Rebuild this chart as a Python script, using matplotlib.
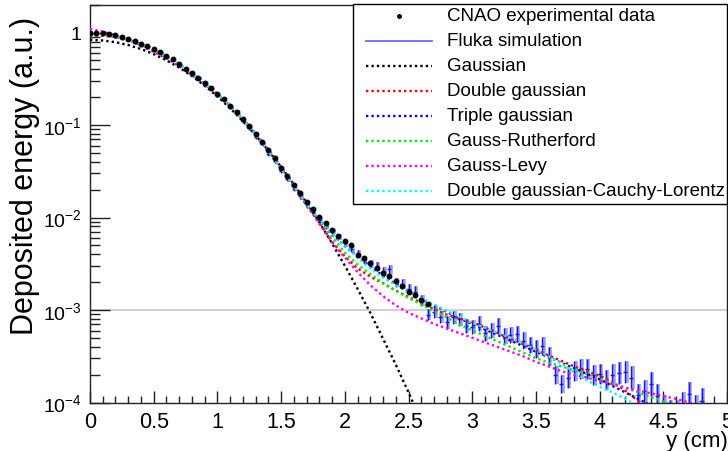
import matplotlib
matplotlib.use("Agg")
import matplotlib.pyplot as plt
from matplotlib.lines import Line2D
from matplotlib.patches import Rectangle
from matplotlib.ticker import FixedLocator, FuncFormatter, LogLocator, MultipleLocator, NullFormatter
import numpy as np

plt.rcParams["font.family"] = ["Liberation Sans", "DejaVu Sans"]
plt.rcParams["mathtext.fontset"] = "custom"
plt.rcParams["mathtext.rm"] = "Liberation Sans"
plt.rcParams["mathtext.it"] = "Liberation Sans:italic"
plt.rcParams["mathtext.bf"] = "Liberation Sans:bold"

# ---- data (values are log10 of the deposited energy) ----
cnao_x = [0.00, 0.05, 0.10, 0.15, 0.20, 0.25, 0.30, 0.35, 0.40, 0.45,
          0.50, 0.55, 0.60, 0.65, 0.70, 0.75, 0.80, 0.85, 0.90, 0.95,
          1.00, 1.05, 1.10, 1.15, 1.20, 1.25, 1.30, 1.35, 1.40, 1.45,
          1.50, 1.55, 1.60, 1.65, 1.70, 1.75, 1.80, 1.85, 1.90, 1.95,
          2.00, 2.05, 2.10, 2.15, 2.20, 2.25, 2.30, 2.35, 2.40, 2.45,
          2.50, 2.55, 2.60, 2.65]
cnao_log = [-0.01, 0.00, -0.01, -0.02, -0.03, -0.05, -0.07, -0.09, -0.12, -0.15,
            -0.18, -0.21, -0.25, -0.29, -0.34, -0.39, -0.44, -0.49, -0.55, -0.60,
            -0.66, -0.72, -0.79, -0.86, -0.93, -1.01, -1.10, -1.18, -1.27, -1.36,
            -1.46, -1.55, -1.65, -1.74, -1.83, -1.91, -1.99, -2.06, -2.13, -2.20,
            -2.25, -2.30, -2.40, -2.44, -2.49, -2.55, -2.60, -2.63, -2.69, -2.74,
            -2.80, -2.84, -2.89, -2.93]

fluka_x = [0.00, 0.05, 0.10, 0.15, 0.20, 0.25, 0.30, 0.35, 0.40, 0.45,
           0.50, 0.55, 0.60, 0.65, 0.70, 0.75, 0.80, 0.85, 0.90, 0.95,
           1.00, 1.05, 1.10, 1.15, 1.20, 1.25, 1.30, 1.35, 1.40, 1.45,
           1.50, 1.55, 1.60, 1.65, 1.70, 1.75, 1.80, 1.85, 1.90, 1.95,
           2.00, 2.05, 2.10, 2.15, 2.20, 2.25, 2.30, 2.35, 2.40, 2.45,
           2.50, 2.55, 2.60, 2.65, 2.70, 2.75, 2.80, 2.85, 2.90, 2.95,
           3.00, 3.05, 3.10, 3.15, 3.20, 3.25, 3.30, 3.35, 3.40, 3.45,
           3.50, 3.55, 3.60, 3.65, 3.70, 3.75, 3.80, 3.85, 3.90, 3.95,
           4.00, 4.05, 4.10, 4.15, 4.20, 4.25, 4.30, 4.35, 4.40, 4.45,
           4.50, 4.55, 4.60, 4.65, 4.70, 4.75, 4.80]
fluka_log = [-0.02, -0.01, -0.02, -0.03, -0.05, -0.06, -0.08, -0.11, -0.13, -0.16,
             -0.20, -0.22, -0.27, -0.30, -0.36, -0.40, -0.46, -0.50, -0.57, -0.61,
             -0.68, -0.73, -0.81, -0.87, -0.96, -1.03, -1.13, -1.20, -1.31, -1.39,
             -1.50, -1.58, -1.69, -1.77, -1.87, -1.94, -2.03, -2.09, -2.15, -2.21,
             -2.28, -2.34, -2.39, -2.46, -2.50, -2.53, -2.58, -2.56, -2.70, -2.72,
             -2.77, -2.80, -2.90, -3.05, -3.02, -3.08, -3.13, -3.08, -3.10, -3.17,
             -3.18, -3.15, -3.25, -3.22, -3.17, -3.28, -3.27, -3.26, -3.33, -3.38,
             -3.42, -3.39, -3.50, -3.70, -3.80, -3.74, -3.66, -3.64, -3.64, -3.70,
             -3.69, -3.76, -3.70, -3.68, -3.67, -3.73, -3.92, -3.88, -3.80, -3.93,
             -4.05, -4.10, -4.10, -4.02, -3.91, -4.05, -3.98]
fluka_err = [0.01, 0.01, 0.01, 0.01, 0.01, 0.01, 0.01, 0.01, 0.01, 0.01,
             0.01, 0.01, 0.01, 0.01, 0.01, 0.01, 0.015, 0.015, 0.015, 0.015,
             0.015, 0.015, 0.015, 0.015, 0.02, 0.02, 0.02, 0.02, 0.02, 0.02,
             0.02, 0.02, 0.025, 0.025, 0.025, 0.025, 0.03, 0.03, 0.03, 0.03,
             0.035, 0.035, 0.04, 0.04, 0.045, 0.045, 0.05, 0.05, 0.05, 0.055,
             0.055, 0.06, 0.06, 0.06, 0.065, 0.065, 0.07, 0.07, 0.07, 0.075,
             0.075, 0.08, 0.08, 0.08, 0.085, 0.085, 0.09, 0.09, 0.09, 0.09,
             0.095, 0.095, 0.1, 0.1, 0.1, 0.1, 0.105, 0.105, 0.11, 0.11,
             0.11, 0.11, 0.115, 0.115, 0.12, 0.12, 0.12, 0.12, 0.125, 0.125,
             0.13, 0.13, 0.13, 0.13, 0.135, 0.135, 0.135]

fit_x = [0.0, 0.1, 0.2, 0.3, 0.4, 0.5, 0.6, 0.7, 0.8, 0.9,
         1.0, 1.1, 1.2, 1.3, 1.4, 1.5, 1.6, 1.7, 1.8, 1.9,
         2.0, 2.1, 2.2, 2.3, 2.4, 2.5, 2.6, 2.7, 2.8, 2.9,
         3.0, 3.1, 3.2, 3.3, 3.4, 3.5, 3.6, 3.7, 3.8, 3.9,
         4.0, 4.1, 4.2, 4.3, 4.4, 4.5, 4.6, 4.7, 4.8]
gauss_log = [-0.08, -0.086, -0.104, -0.135, -0.178, -0.233, -0.30, -0.379, -0.47, -0.574,
             -0.69, -0.818, -0.958, -1.111, -1.276, -1.453, -1.64, -1.84, -2.05, -2.28,
             -2.52, -2.77, -3.03, -3.31, -3.59, -3.89, -4.2]
double_gauss_log = [-0.03, -0.035, -0.05, -0.085, -0.13, -0.19, -0.26, -0.345, -0.445, -0.55,
                    -0.665, -0.795, -0.94, -1.105, -1.285, -1.475, -1.675, -1.87, -2.05, -2.26,
                    -2.42, -2.55, -2.64, -2.71, -2.79, -2.86, -2.92, -2.99, -3.05, -3.09,
                    -3.13, -3.19, -3.25, -3.31, -3.37, -3.43, -3.49, -3.55, -3.61, -3.66,
                    -3.71, -3.78, -3.87, -3.98, -4.1, -4.22, -4.35, -4.5, -4.65]
triple_gauss_log = [-0.01, -0.02, -0.04, -0.08, -0.13, -0.19, -0.26, -0.345, -0.445, -0.55,
                    -0.665, -0.79, -0.935, -1.10, -1.28, -1.47, -1.665, -1.86, -2.03, -2.18,
                    -2.31, -2.42, -2.53, -2.63, -2.72, -2.80, -2.88, -2.95, -3.02, -3.09,
                    -3.15, -3.21, -3.27, -3.33, -3.39, -3.45, -3.51, -3.57, -3.63, -3.69,
                    -3.75, -3.82, -3.89, -3.96, -4.03, -4.1, -4.2, -4.3, -4.4]
rutherford_log = [0.0, -0.01, -0.035, -0.075, -0.125, -0.185, -0.255, -0.34, -0.44, -0.55,
                  -0.665, -0.795, -0.94, -1.10, -1.28, -1.465, -1.66, -1.855, -2.03, -2.21,
                  -2.38, -2.51, -2.61, -2.71, -2.79, -2.87, -2.94, -3.01, -3.08, -3.16,
                  -3.22, -3.28, -3.34, -3.40, -3.46, -3.52, -3.57, -3.61, -3.65, -3.69,
                  -3.74, -3.79, -3.84, -3.89, -3.94, -3.99, -4.04, -4.1, -4.16]
levy_log = [0.04, 0.01, -0.03, -0.08, -0.14, -0.21, -0.28, -0.365, -0.46, -0.56,
            -0.67, -0.79, -0.93, -1.09, -1.26, -1.45, -1.65, -1.86, -2.07, -2.27,
            -2.43, -2.59, -2.73, -2.85, -2.95, -3.03, -3.09, -3.15, -3.20, -3.25,
            -3.30, -3.35, -3.40, -3.45, -3.50, -3.56, -3.61, -3.66, -3.70, -3.73,
            -3.77, -3.80, -3.84, -3.87, -3.90, -3.93, -3.96, -4.0, -4.04]
cauchy_log = [-0.02, -0.025, -0.045, -0.08, -0.13, -0.19, -0.26, -0.345, -0.445, -0.55,
              -0.665, -0.79, -0.935, -1.10, -1.28, -1.47, -1.665, -1.855, -2.02, -2.17,
              -2.31, -2.43, -2.55, -2.65, -2.73, -2.80, -2.87, -2.94, -3.01, -3.07,
              -3.14, -3.19, -3.25, -3.30, -3.36, -3.43, -3.50, -3.58, -3.67, -3.76,
              -3.83, -3.89, -3.96, -4.04, -4.12, -4.2, -4.3, -4.4, -4.5]

labels = ["CNAO experimental data", "Fluka simulation", "Gaussian", "Double gaussian",
          "Triple gaussian", "Gauss-Rutherford", "Gauss-Levy",
          "Double gaussian-Cauchy-Lorentz"]
fit_colors = ["#000000", "#ff0000", "#0000ff", "#00ee00", "#ff00ff", "#00ffff"]

# ---- figure ----
fig = plt.figure(figsize=(7.28, 4.52), dpi=100)
ax = fig.add_axes([90 / 728, 1 - 403.5 / 452, 637 / 728, 397.8 / 452])

ax.axhline(1e-3, color="#c8c8c8", lw=1.2, zorder=0)

fx = np.array(fluka_x)
flog = np.array(fluka_log)
ferr = np.array(fluka_err)
fy = 10 ** flog
yerr = [fy - 10 ** (flog - ferr), 10 ** (flog + ferr) - fy]
ax.errorbar(fx + 0.012, fy, yerr=yerr, fmt="none", ecolor="#7d7dff",
            elinewidth=2.6, alpha=0.75, zorder=2)
ax.errorbar(fx, fy, yerr=yerr, xerr=0.016, fmt="none", ecolor="#1515e6",
            elinewidth=1.0, zorder=3)

fits = [(fit_x[:len(gauss_log)], gauss_log), (fit_x, double_gauss_log),
        (fit_x, triple_gauss_log), (fit_x, rutherford_log),
        (fit_x, levy_log), (fit_x, cauchy_log)]
dotted = (0, (1, 1.3))
for (xs, ys), color in zip(fits, fit_colors):
    ax.plot(xs, 10 ** np.array(ys), color=color, ls=dotted, lw=1.7, zorder=4)

ax.plot(cnao_x, 10 ** np.array(cnao_log), "o", color="black", ms=3.2, ls="none", zorder=5)

ax.set_xlim(0, 5)
ax.set_yscale("log")
ax.set_ylim(1e-4, 2)

ax.xaxis.set_major_locator(MultipleLocator(0.5))
ax.xaxis.set_minor_locator(MultipleLocator(0.1))
ax.xaxis.set_major_formatter(FuncFormatter(lambda v, pos: f"{v:g}"))
ax.yaxis.set_major_locator(FixedLocator([1e-4, 1e-3, 1e-2, 1e-1, 1]))
ax.yaxis.set_minor_locator(LogLocator(base=10, subs=np.arange(2, 10)))
ax.yaxis.set_minor_formatter(NullFormatter())


def _decade(value, pos):
    exponent = int(round(np.log10(value)))
    return "1" if exponent == 0 else rf"$10^{{{exponent}}}$"


ax.yaxis.set_major_formatter(FuncFormatter(_decade))

ax.tick_params(which="both", direction="in", top=False, right=False, color="#222222")
ax.tick_params(axis="x", which="major", length=8.6, width=1, labelsize=15.5, pad=6)
ax.tick_params(axis="x", which="minor", length=5, width=1)
ax.tick_params(axis="y", which="major", length=14.4, width=1, labelsize=14, pad=6)
ax.tick_params(axis="y", which="minor", length=7.2, width=1)
for spine in ax.spines.values():
    spine.set_color("#222222")
    spine.set_linewidth(1.0)

fig.text(25 / 728, 1 - 17 / 452, "Deposited energy (a.u.)", rotation=90,
         ha="center", va="top", fontsize=22)
fig.text(1.0, 1 - 442 / 452, "y (cm)", ha="right", va="center", fontsize=16)

# ---- legend drawn ROOT-style ----
def ax_y(py):
    return (403.5 - py) / 397.8


ax.add_patch(Rectangle((0.413, ax_y(205)), 0.587, ax_y(5) - ax_y(205),
                       transform=ax.transAxes, facecolor="white", edgecolor="black",
                       lw=1.0, zorder=10, clip_on=False))
handle_styles = [dict(marker="o", ms=2.5, color="black", ls="none"),
                 dict(color="#5a5aff", ls="-", lw=1.2)]
handle_styles += [dict(color=c, ls=dotted, lw=1.7) for c in fit_colors]
for i, (label, style) in enumerate(zip(labels, handle_styles)):
    yy = ax_y(16.7 + 25 * i)
    if style.get("marker"):
        ax.add_line(Line2D([0.485], [yy], transform=ax.transAxes, zorder=11,
                           clip_on=False, **style))
    else:
        ax.add_line(Line2D([0.434, 0.537], [yy, yy], transform=ax.transAxes,
                           zorder=11, clip_on=False, **style))
    ax.text(0.560, yy, label, transform=ax.transAxes, ha="left", va="center",
            fontsize=13.5, zorder=12)

fig.savefig("out.png", dpi=100)
